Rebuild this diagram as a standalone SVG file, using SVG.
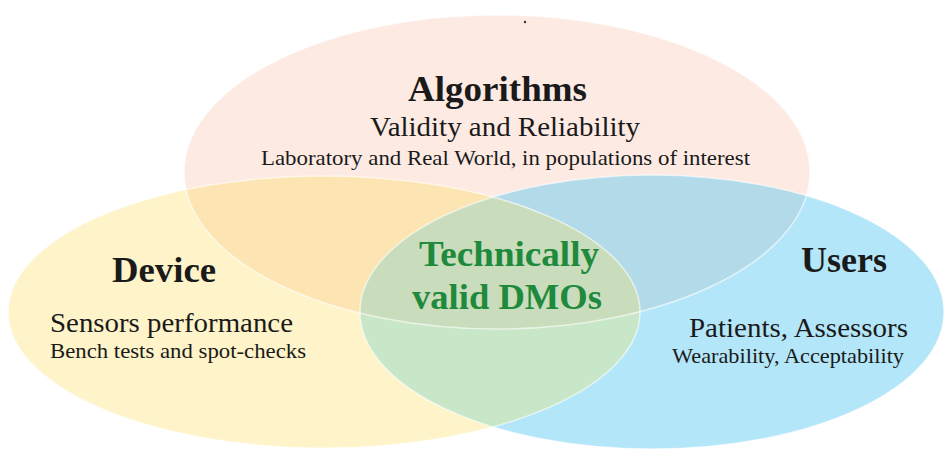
<svg xmlns="http://www.w3.org/2000/svg" width="948" height="456" viewBox="0 0 948 456">
<style>
text{font-family:"Liberation Serif","Times New Roman",serif;fill:#1a1a1a}
.h{font-weight:bold;font-size:36px}
.m{font-size:28px}
.s{font-size:21px}
.g{fill:#1f8a3c;font-weight:bold;font-size:36px}
.edge{fill:none;stroke:#ffffff;stroke-width:1.5;stroke-opacity:0.6}
</style>
<defs>
<ellipse id="eA" cx="497" cy="172" rx="313" ry="157"/>
<ellipse id="eD" cx="324" cy="312" rx="316" ry="136"/>
<ellipse id="eU" cx="652" cy="312" rx="292" ry="137"/>
<clipPath id="cA"><use href="#eA"/></clipPath>
<clipPath id="cD"><use href="#eD"/></clipPath>
<clipPath id="cU"><use href="#eU"/></clipPath>
</defs>
<rect width="948" height="456" fill="#ffffff"/>
<g id="algorithms-shape"><use href="#eA" fill="#fdeae3"/></g>
<g id="device-shape"><use href="#eD" fill="#fef3c9"/></g>
<g id="users-shape"><use href="#eU" fill="#b3e6f8"/></g>
<g id="overlaps">
<use href="#eA" fill="#fde5b3" clip-path="url(#cD)"/>
<use href="#eA" fill="#b3dae8" clip-path="url(#cU)"/>
<use href="#eD" fill="#c8e6c8" clip-path="url(#cU)"/>
<g clip-path="url(#cD)"><use href="#eA" fill="#c9dcbc" clip-path="url(#cU)"/></g>
<use href="#eA" class="edge"/>
<use href="#eD" class="edge"/>
<use href="#eU" class="edge"/>
</g>
<circle cx="525" cy="22" r="1.2" fill="#333"/>
<g id="algorithms">
<text class="h" x="408" y="101" textLength="179" lengthAdjust="spacingAndGlyphs">Algorithms</text>
<text class="m" x="370" y="136" textLength="270" lengthAdjust="spacingAndGlyphs">Validity and Reliability</text>
<text class="s" x="261" y="165" textLength="489" lengthAdjust="spacingAndGlyphs">Laboratory and Real World, in populations of interest</text>
</g>
<g id="device">
<text class="h" x="112" y="282" textLength="104" lengthAdjust="spacingAndGlyphs">Device</text>
<text class="m" x="50" y="332" textLength="243" lengthAdjust="spacingAndGlyphs">Sensors performance</text>
<text class="s" x="50" y="358" textLength="256" lengthAdjust="spacingAndGlyphs">Bench tests and spot-checks</text>
</g>
<g id="center">
<text class="g" x="419" y="266" textLength="180" lengthAdjust="spacingAndGlyphs">Technically</text>
<text class="g" x="412" y="309" textLength="190" lengthAdjust="spacingAndGlyphs">valid DMOs</text>
</g>
<g id="users">
<text class="h" x="801" y="272" textLength="86" lengthAdjust="spacingAndGlyphs">Users</text>
<text class="m" x="689" y="337" textLength="219" lengthAdjust="spacingAndGlyphs">Patients, Assessors</text>
<text class="s" x="672" y="363" textLength="232" lengthAdjust="spacingAndGlyphs">Wearability, Acceptability</text>
</g>
</svg>
